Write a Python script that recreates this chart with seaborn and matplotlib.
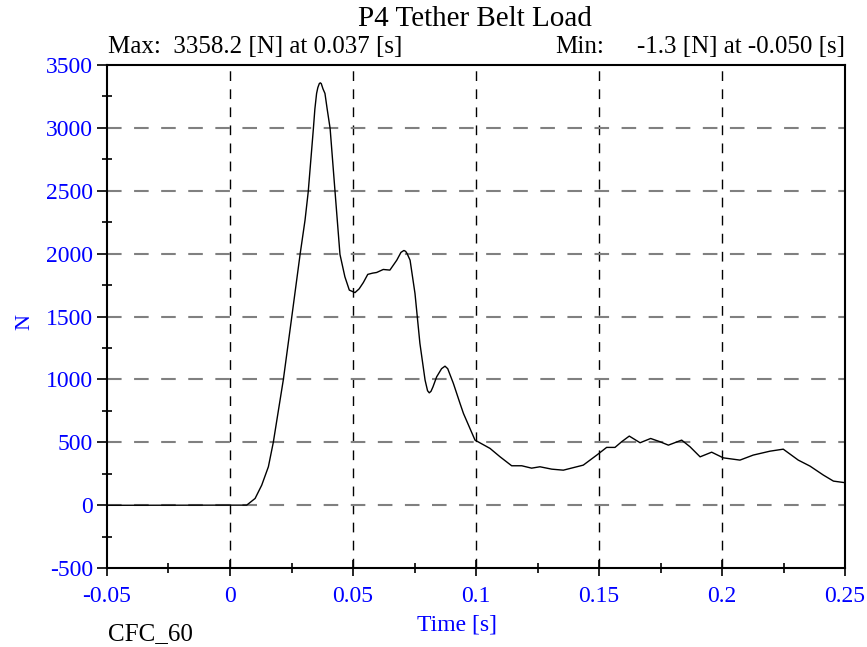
import matplotlib
matplotlib.use('Agg')
import matplotlib.pyplot as plt
from matplotlib.ticker import MultipleLocator, FuncFormatter
import seaborn as sns

# Time [s] and load [N]
time_s = [-0.05, 0.0, 0.0068, 0.0102, 0.0129, 0.0156, 0.0176, 0.0197, 0.0217,
          0.0251, 0.0285, 0.0305, 0.0318, 0.0339, 0.0345, 0.0352, 0.0357, 0.0363,
          0.0367, 0.0371, 0.0378, 0.0386, 0.0395, 0.0407, 0.0427, 0.0447, 0.0467,
          0.0485, 0.0508, 0.0525, 0.0542, 0.0560, 0.0580, 0.0596, 0.0623, 0.0650,
          0.0678, 0.0695, 0.0707, 0.0714, 0.0720, 0.0732, 0.0752, 0.0772, 0.0793,
          0.0803, 0.0810, 0.0817, 0.0825, 0.0840, 0.0860, 0.0874, 0.0885, 0.0908,
          0.0935, 0.0949, 0.0996, 0.1057, 0.1098, 0.1145, 0.1186, 0.1226, 0.1260,
          0.1308, 0.1355, 0.1436, 0.1491, 0.1531, 0.1565, 0.1592, 0.1623, 0.1667,
          0.1710, 0.1748, 0.1782, 0.1836, 0.1870, 0.1911, 0.1958, 0.2005, 0.2073,
          0.2127, 0.2195, 0.2249, 0.2310, 0.2358, 0.2412, 0.2453, 0.2494, 0.2500]
load_n = [-1.3, 0, 0, 53, 159, 305, 499, 756, 1000,
          1495, 1995, 2266, 2492, 2995, 3150, 3274, 3320, 3352,
          3358, 3352, 3310, 3274, 3150, 2995, 2492, 1994, 1816,
          1710, 1690, 1720, 1770, 1835, 1845, 1850, 1874, 1869,
          1948, 2010, 2025, 2018, 2000, 1948, 1683, 1286, 994,
          910, 893, 905, 940, 1020, 1085, 1105, 1085, 968,
          809, 729, 517, 451, 384, 313, 313, 294, 305,
          286, 278, 318, 398, 459, 459, 504, 549, 496,
          530, 504, 477, 517, 464, 384, 421, 376, 358,
          398, 429, 445, 358, 310, 239, 191, 180, 180]

title = 'P4 Tether Belt Load'
max_text = 'Max:  3358.2 [N] at 0.037 [s]'
min_label = 'Min:'
min_text = '-1.3 [N] at -0.050 [s]'
filter_text = 'CFC_60'

sns.set_style('white')
plt.rcParams['font.family'] = ['Liberation Serif', 'DejaVu Serif']

W, H = 867, 647
fig = plt.figure(figsize=(W / 100, H / 100), dpi=100)
ax = fig.add_axes([107 / W, 1 - 568 / H, (845 - 107) / W, (568 - 65) / H])

sns.lineplot(x=time_s, y=load_n, color='black', linewidth=1.0, ax=ax)

ax.xaxis.set_major_locator(MultipleLocator(0.05))
ax.xaxis.set_minor_locator(MultipleLocator(0.025))
ax.yaxis.set_major_locator(MultipleLocator(500))
ax.yaxis.set_minor_locator(MultipleLocator(250))
ax.xaxis.set_major_formatter(FuncFormatter(lambda v, p: f'{v:g}'))
ax.yaxis.set_major_formatter(FuncFormatter(lambda v, p: f'{v:g}'))
ax.set_xlim(-0.05, 0.25)
ax.set_ylim(-500, 3500)

# grid: vertical black dashes, horizontal grey dashes
for xv in [0.0, 0.05, 0.1, 0.15, 0.2]:
    ax.axvline(xv, color='black', lw=1.0, ls=(0, (7, 6)), zorder=0)
for yv in [0, 500, 1000, 1500, 2000, 2500, 3000]:
    ax.axhline(yv, color='#808080', lw=1.5, ls=(0, (7, 6)), zorder=0)

for s in ax.spines.values():
    s.set_linewidth(1.5)
    s.set_color('black')

ax.tick_params(axis='x', which='major', direction='inout', length=12, width=1.2, color='black',
               bottom=True, labelsize=17, labelcolor='blue', pad=7)
ax.tick_params(axis='x', which='minor', direction='inout', length=7, width=1.2, color='black', bottom=True)
ax.tick_params(axis='y', which='major', direction='out', length=7, width=1.2, color='black',
               left=True, labelsize=17, labelcolor='blue', pad=3)
ax.tick_params(axis='y', which='minor', direction='inout', length=7, width=1.2, color='black', left=True)

ax.set_xlabel('')
ax.set_ylabel('')

fig.text(475 / W, 1 - 19 / H, title, ha='center', va='center', fontsize=21, color='black')
fig.text(108 / W, 1 - 47 / H, max_text, ha='left', va='center', fontsize=18, color='black')
fig.text(555 / W, 1 - 47 / H, min_label, ha='left', va='center', fontsize=18, color='black')
fig.text(845 / W, 1 - 47 / H, min_text, ha='right', va='center', fontsize=18, color='black')
fig.text(457 / W, 1 - 625 / H, 'Time [s]', ha='center', va='center', fontsize=17, color='blue')
fig.text(108 / W, 1 - 634 / H, filter_text, ha='left', va='center', fontsize=18, color='black')
fig.text(25 / W, 1 - 322 / H, 'N', ha='center', va='center', fontsize=16, color='blue', rotation=90)

fig.savefig('out.png', dpi=100)
